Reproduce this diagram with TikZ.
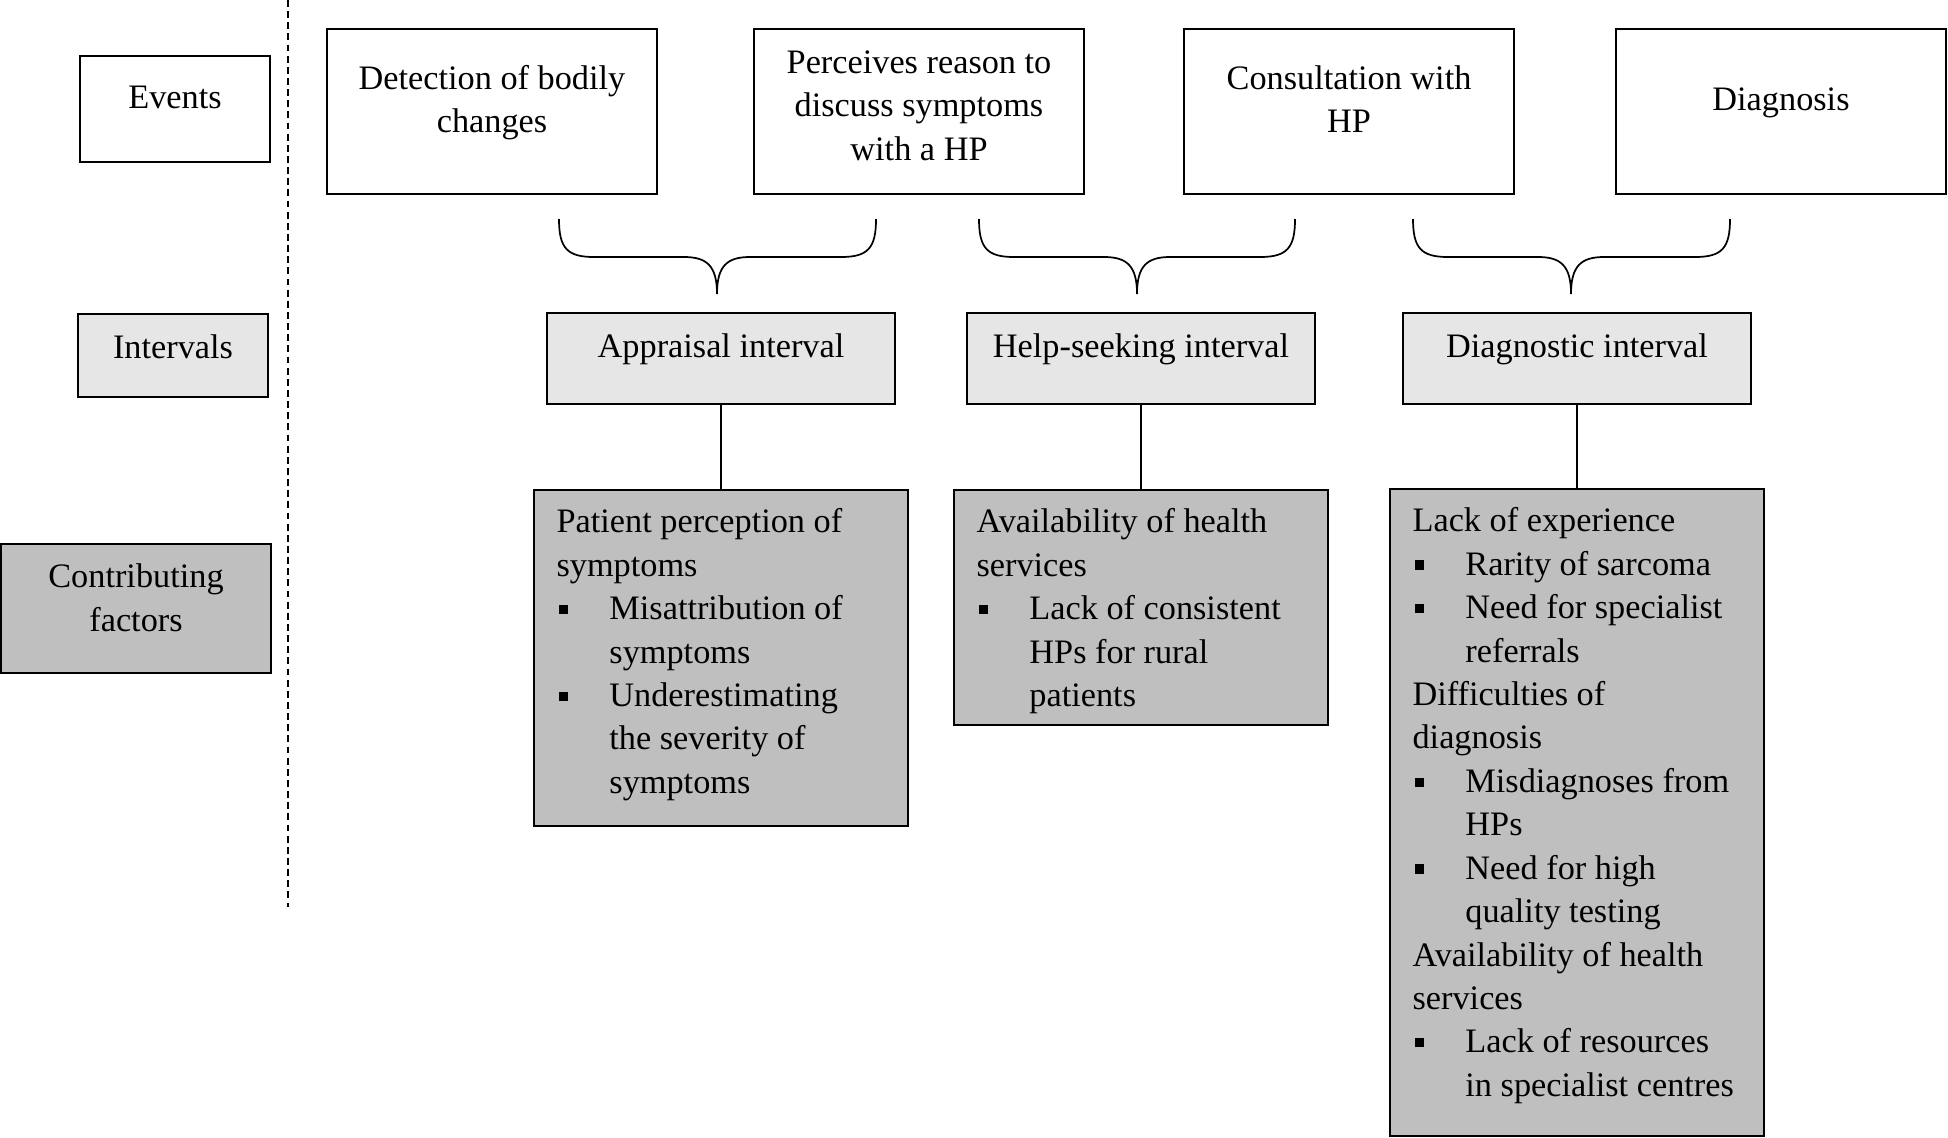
\documentclass[tikz,border=0pt]{standalone}
\usepackage{fontspec}
\setmainfont{Liberation Serif}
\definecolor{intgray}{HTML}{E6E6E6}
\definecolor{facgray}{HTML}{BFBFBF}

% centred text, pushed a little above the middle of its box
\newcommand{\tx}[2][6.6pt]{\vbox{\hbox{\begin{tabular}{@{}c@{}}#2\end{tabular}}\vskip#1}}
% factor lists
\newcommand{\fitem}{\makebox[18.5pt][l]{\hspace{0.8pt}\rule[2pt]{3.2pt}{3.2pt}}}
\newcommand{\find}{\hspace*{18.5pt}}
\newcommand{\ftext}[2]{\parbox[t][#1][t]{115.1pt}{\raggedright\strut #2}}
% brace: left end, tip, right end
\newcommand{\ibrace}[3]{%
	\draw[brc] (#1,219) .. controls (#1,248) and (#1+8,257) .. (#1+35,257) -- (#2-33,257)
		.. controls (#2-10,257) and (#2,266) .. (#2,294)
		.. controls (#2,266) and (#2+10,257) .. (#2+33,257) -- (#3-35,257)
		.. controls (#3-8,257) and (#3,248) .. (#3,219);}

\begin{document}
\begin{tikzpicture}[x=0.35pt,y=-0.35pt,
		every node/.style={font=\fontsize{12}{15.2}\selectfont},
		evbox/.style={draw,line width=0.8pt,minimum width=115.5pt,minimum height=57.75pt,inner sep=0pt},
		intbox/.style={draw,line width=0.8pt,fill=intgray,minimum width=122pt,minimum height=31.85pt,inner sep=0pt},
		facbox/.style={draw,line width=0.8pt,fill=facgray,anchor=north,inner xsep=7.9pt,inner ysep=4.3pt},
		conn/.style={line width=0.75pt},
		brc/.style={line width=0.6pt}]
	\useasboundingbox (0,0) rectangle (1948,1137);

	% row labels
	\node[evbox,minimum width=66.5pt,minimum height=37.1pt] (evlab) at (175,109) {\tx{Events}};
	\node[intbox,minimum width=66.5pt,minimum height=29.05pt] (intlab) at (173,355.5) {\tx[4pt]{Intervals}};
	\node[intbox,fill=facgray,minimum width=94.5pt,minimum height=45.15pt] (faclab) at (136,608.5) {\tx[5.4pt]{Contributing\\factors}};

	\coordinate (dtop) at (288,0);
	\coordinate (dbot) at (288,907);
	\draw[line width=0.6pt,dash pattern=on 2.4pt off 1.5pt] (dtop) -- (dbot);

	% events
	\node[evbox] (det) at (492,111.5) {\tx{Detection of bodily\\changes}};
	\node[evbox] (per) at (919,111.5) {\tx[2.4pt]{Perceives reason to\\discuss symptoms\\with a HP}};
	\node[evbox] (con) at (1349,111.5) {\tx{Consultation with\\HP}};
	\node[evbox] (dia) at (1781,111.5) {\tx{Diagnosis}};

	\ibrace{559}{717}{876}
	\ibrace{979}{1137}{1295}
	\ibrace{1413}{1571}{1730}

	% intervals
	\node[intbox] (app) at (721,358.5) {\tx{Appraisal interval}};
	\node[intbox] (hel) at (1141,358.5) {\tx{Help-seeking interval}};
	\node[intbox] (dgi) at (1577,358.5) {\tx{Diagnostic interval}};

	% contributing factors
	\node[facbox] (f1) at (721,489) {\ftext{109pt}{Patient perception of\\
		symptoms\\
		\fitem Misattribution of\\
		\find symptoms\\
		\fitem Underestimating\\
		\find the severity of\\
		\find symptoms}};
	\node[facbox] (f2) at (1141,489) {\ftext{73.65pt}{Availability of health\\
		services\\
		\fitem Lack of consistent\\
		\find HPs for rural\\
		\find patients}};
	\node[facbox] (f3) at (1577,488) {\ftext{217.85pt}{Lack of experience\\
		\fitem Rarity of sarcoma\\
		\fitem Need for specialist\\
		\find referrals\\
		Difficulties of\\
		diagnosis\\
		\fitem Misdiagnoses from\\
		\find HPs\\
		\fitem Need for high\\
		\find quality testing\\
		Availability of health\\
		services\\
		\fitem Lack of resources\\
		\find in specialist centres}};

	\draw[conn] (app.south) -- (f1.north);
	\draw[conn] (hel.south) -- (f2.north);
	\draw[conn] (dgi.south) -- (f3.north);
\end{tikzpicture}
\end{document}
